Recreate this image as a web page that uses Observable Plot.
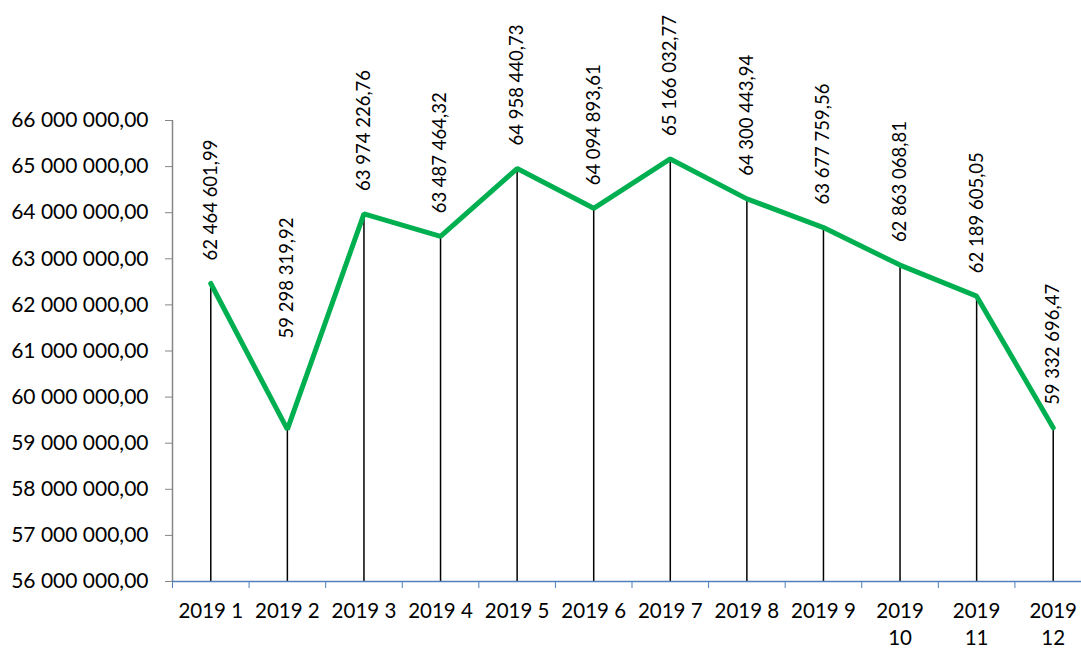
<!DOCTYPE html>
<html>
<head>
<meta charset="utf-8">
<script src="https://cdn.jsdelivr.net/npm/d3@7"></script>
<script src="https://cdn.jsdelivr.net/npm/@observablehq/plot@0.6"></script>
<style>
  html, body { margin: 0; padding: 0; background: #fff; }
  #chart svg { display: block; }
</style>
</head>
<body>
<div id="chart"></div>
<script>
const periods = ["2019 1","2019 2","2019 3","2019 4","2019 5","2019 6","2019 7","2019 8","2019 9","2019\n10","2019\n11","2019\n12"];
const values = [62464601.99, 59298319.92, 63974226.76, 63487464.32, 64958440.73, 64094893.61, 65166032.77, 64300443.94, 63677759.56, 62863068.81, 62189605.05, 59332696.47];
const yTicks = [56e6, 57e6, 58e6, 59e6, 60e6, 61e6, 62e6, 63e6, 64e6, 65e6, 66e6];

const data = values.map((v, i) => ({i: i + 1, v, label: periods[i]}));
const boundaries = d3.range(0, periods.length + 1).map(k => k + 0.5);

const loc = d3.formatLocale({decimal: ",", thousands: " ", grouping: [3], currency: ["", ""]});
const fmt = loc.format(",.2f");

const font = "Lato, 'Open Sans', sans-serif";
const raisedLabel = 2; // the "2019 2" label sits higher in the reference

const labelOpts = {x: "i", y: "v", text: d => fmt(d.v), rotate: -90, textAnchor: "start", lineAnchor: "middle", fontSize: 18.5, fill: "#000"};

const chart = Plot.plot({
  width: 1081,
  height: 650,
  marginLeft: 172,
  marginRight: 0,
  marginTop: 120,
  marginBottom: 69,
  style: {fontFamily: font, fontSize: "21px", color: "#000", background: "#fff"},
  x: {domain: [0.5, 12.5], range: [172, 1091]},
  y: {domain: [56e6, 66e6]},
  marks: [
    Plot.axisY({ticks: yTicks, tickFormat: fmt, tickSize: 7, tickPadding: 17, stroke: "#868686", fill: "#000", label: null, fontSize: 21}),
    Plot.ruleX([0.5], {stroke: "#868686", strokeWidth: 1.5}),
    Plot.ruleX(data, {x: "i", y1: 56e6, y2: "v", stroke: "#000", strokeWidth: 1.5}),
    Plot.ruleY([56e6], {stroke: "#4F81BD", strokeWidth: 1.5}),
    Plot.axisX({ticks: boundaries, tickFormat: () => "", tickSize: 7, stroke: "#4F81BD", label: null}),
    Plot.line(data, {x: "i", y: "v", stroke: "#00B050", strokeWidth: 5, strokeLinejoin: "miter"}),
    Plot.text(data, {...labelOpts, filter: d => d.i !== raisedLabel, dy: -23}),
    Plot.text(data, {...labelOpts, filter: d => d.i === raisedLabel, dy: -91}),
    Plot.text(data, {x: "i", y: 56e6, text: "label", lineAnchor: "top", dy: 18, fontSize: 20.5, lineHeight: 1.3, fill: "#000"})
  ]
});
document.getElementById("chart").appendChild(chart);
</script>
</body>
</html>
